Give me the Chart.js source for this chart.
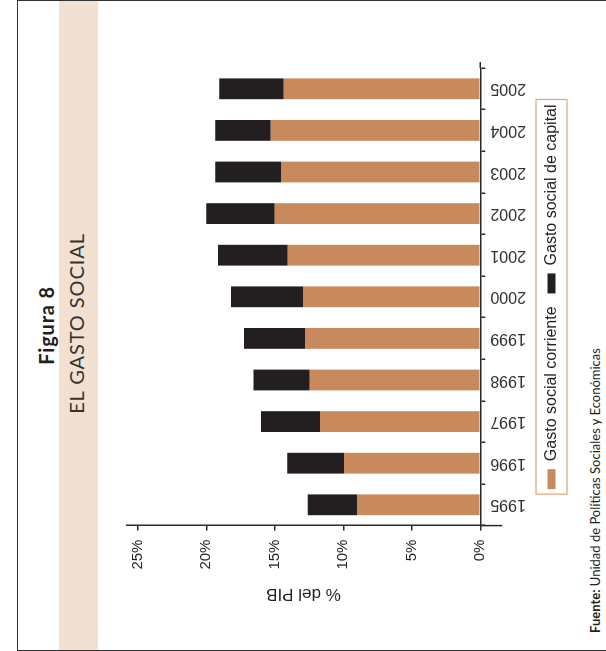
<!DOCTYPE html>
<html lang="es">
<head>
<meta charset="utf-8">
<title>El gasto social</title>
<script src="https://cdn.jsdelivr.net/npm/chart.js@4.4.1/dist/chart.umd.min.js"></script>
<style>
    html, body { margin: 0; padding: 0; background: #fff; overflow: hidden; }
    /* La página original está girada 90° a la izquierda */
    #pagina {
        position: absolute; left: 0; top: 0;
        width: 651px; height: 606px;
        transform-origin: 0 0;
        transform: translate(0, 651px) rotate(-90deg);
        font-family: Lato, sans-serif; color: #231f20;
    }
    #marco { position: absolute; left: 0.25px; top: 17.25px; width: 650.5px; height: 700px; box-sizing: border-box; border: 1.5px solid #333; }
    #banda { position: absolute; left: 1px; top: 59px; width: 649px; height: 39px; background: #f2e1d3; }
    #figura { position: absolute; left: 0; width: 651px; top: 35.7px; text-align: center; font-weight: 700; font-size: 20px; line-height: 20px; letter-spacing: 0.8px; }
    #titulo { position: absolute; left: 0; width: 655px; top: 65.5px; text-align: center; font-size: 20px; line-height: 20px; letter-spacing: 0.9px; color: #333; }
    #contenedor { position: absolute; left: 0; top: 100px; }
    #fuente { position: absolute; left: 18px; top: 588.5px; font-size: 13px; line-height: 13px; white-space: nowrap; }
</style>
</head>
<body>
<div id="pagina">
    <div id="marco"></div>
    <div id="banda"></div>
    <div id="figura">Figura 8</div>
    <div id="titulo">EL GASTO SOCIAL</div>
    <div id="contenedor"><canvas id="grafico" width="651" height="480"></canvas></div>
    <div id="fuente"><b>Fuente:</b> Unidad de Políticas Sociales y Económicas</div>
</div>
<script>
// Datos (% del PIB)
const anios = ['1995', '1996', '1997', '1998', '1999', '2000', '2001', '2002', '2003', '2004', '2005'];
const gastoCorriente = [9.0, 9.95, 11.7, 12.45, 12.8, 12.95, 14.05, 15.0, 14.55, 15.3, 14.35];
const gastoCapital = [3.6, 4.15, 4.3, 4.1, 4.45, 5.25, 5.1, 5.0, 4.8, 4.05, 4.7];
const ticksPorcentaje = [0, 5, 10, 15, 20, 25];

const colorCorriente = '#c8895c';
const colorCapital = '#231f20';
const colorEje = '#2b2b2b';

Chart.defaults.font.family = "'Liberation Sans', Arial, sans-serif";
Chart.defaults.color = '#231f20';

// Prolonga los ejes un poco más allá del área, como en el original
const prolongarEje = {
    id: 'prolongarEje',
    afterDraw(chart) {
        const { ctx, chartArea, scales } = chart;
        const y0 = scales.y.getPixelForValue(0);
        ctx.save();
        ctx.strokeStyle = colorEje;
        ctx.lineWidth = 1.5;
        ctx.beginPath();
        ctx.moveTo(chartArea.left, y0);
        ctx.lineTo(chartArea.left, y0 + 22);
        ctx.moveTo(chartArea.right, y0);
        ctx.lineTo(chartArea.right + 6, y0);
        ctx.stroke();
        ctx.restore();
    }
};

// Marco alrededor de la leyenda
const marcoLeyenda = {
    id: 'marcoLeyenda',
    afterDraw(chart) {
        const cajas = chart.legend.legendHitBoxes;
        if (!cajas || !cajas.length) return;
        const ctx = chart.ctx;
        const izq = Math.min(...cajas.map(c => c.left)) - 5;
        const der = Math.max(...cajas.map(c => c.left + c.width)) + 5;
        const centro = cajas[0].top + cajas[0].height / 2;
        ctx.save();
        ctx.strokeStyle = '#e2a47c';
        ctx.lineWidth = 1.2;
        ctx.strokeRect(izq, centro - 15.5, der - izq, 31);
        ctx.restore();
    }
};

new Chart(document.getElementById('grafico'), {
    type: 'bar',
    data: {
        labels: anios,
        datasets: [
            { label: 'Gasto social corriente', data: gastoCorriente, backgroundColor: colorCorriente },
            { label: 'Gasto social de capital', data: gastoCapital, backgroundColor: colorCapital }
        ]
    },
    options: {
        responsive: false,
        animation: false,
        categoryPercentage: 1,
        barPercentage: 0.5,
        layout: { padding: { left: 40, right: 68, top: 26.7, bottom: 10.5 } },
        scales: {
            x: {
                stacked: true,
                grid: { drawOnChartArea: false, color: colorEje, lineWidth: 1.5, tickLength: 5, offset: true },
                border: { color: colorEje, width: 1.5 },
                ticks: { minRotation: 90, maxRotation: 90, padding: 5, font: { size: 16 }, color: '#333' },
                afterFit: (s) => { s.height = 50.2; }
            },
            y: {
                stacked: true,
                min: 0,
                max: 25.81,
                afterBuildTicks: (s) => { s.ticks = ticksPorcentaje.map(v => ({ value: v })); },
                grid: { drawOnChartArea: false, color: colorEje, lineWidth: 1.5, tickLength: 5 },
                border: { color: colorEje, width: 1.5 },
                ticks: { padding: 9, font: { size: 15 }, callback: (v) => v + '%' },
                title: { display: true, text: '% del PIB', font: { size: 17 }, padding: { top: 7, bottom: 0 } },
                afterFit: (s) => { s.width = 85.4; }
            }
        },
        plugins: {
            legend: {
                position: 'bottom',
                align: 'center',
                fullSize: false,
                labels: { boxWidth: 20, boxHeight: 8, padding: 13, font: { size: 16 } }
            },
            tooltip: { enabled: false }
        }
    },
    plugins: [prolongarEje, marcoLeyenda]
});
</script>
</body>
</html>
